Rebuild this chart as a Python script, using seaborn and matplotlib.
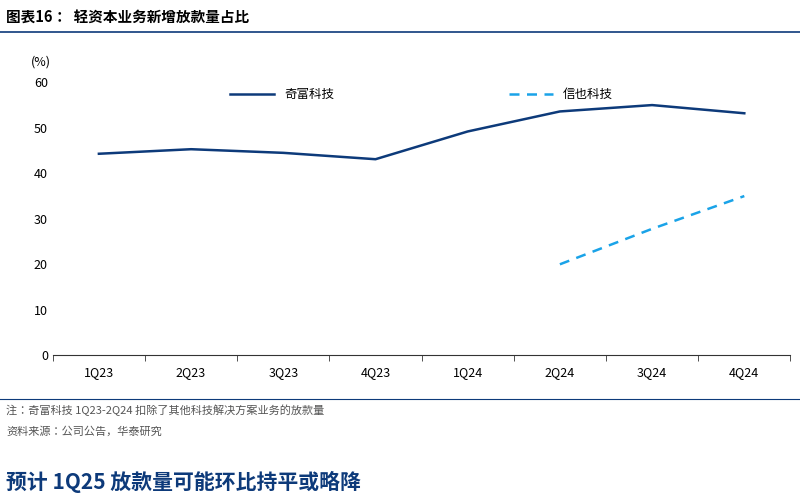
import matplotlib
matplotlib.use("Agg")
import matplotlib.pyplot as plt
from matplotlib import font_manager
import seaborn as sns
import pandas as pd

# pick an installed CJK font by file, since names can differ
cjk = [f for f in font_manager.findSystemFonts() if "CJK" in f or "cjk" in f.lower()]
fam = "DejaVu Sans"
if cjk:
    font_manager.fontManager.addfont(cjk[0])
    fam = font_manager.FontProperties(fname=cjk[0]).get_name()
plt.rcParams["font.family"] = [fam, "DejaVu Sans"]

quarters = ["1Q23", "2Q23", "3Q23", "4Q23", "1Q24", "2Q24", "3Q24", "4Q24"]
qifu = [44.3, 45.3, 44.5, 43.1, 49.2, 53.6, 55.0, 53.2]
xinye_quarters = ["2Q24", "3Q24", "4Q24"]
xinye = [20.0, 27.8, 35.0]

df_q = pd.DataFrame({"q": quarters, "v": qifu})
df_x = pd.DataFrame({"q": xinye_quarters, "v": xinye})
pos = {q: i for i, q in enumerate(quarters)}
df_q["x"] = df_q["q"].map(pos)
df_x["x"] = df_x["q"].map(pos)

fig = plt.figure(figsize=(8, 4.99), dpi=100)
ax = fig.add_axes([0.066, 0.288, 0.922, 0.547])

sns.lineplot(data=df_q, x="x", y="v", ax=ax, color="#0d3a7a", linewidth=1.8, label="奇富科技")
sns.lineplot(data=df_x, x="x", y="v", ax=ax, color="#1aa3e8", linewidth=1.8,
             linestyle=(0, (4, 3)), label="信也科技")

ax.set_xlim(-0.5, 7.5)
ax.set_ylim(0, 60)
ax.set_yticks(range(0, 61, 10))
ax.set_xticks(range(len(quarters)))
ax.set_xticklabels(quarters)
ax.set_xticks([i - 0.5 for i in range(len(quarters) + 1)], minor=True)
ax.set_xlabel("")
ax.set_ylabel("")
ax.tick_params(labelsize=9, length=0)
ax.tick_params(axis="x", which="major", length=0, pad=8)
ax.tick_params(axis="x", which="minor", length=4, direction="out", color="#333333")
for s in ["top", "right", "left"]:
    ax.spines[s].set_visible(False)
ax.spines["bottom"].set_color("#333333")
ax.text(-0.03, 1.06, "(%)", transform=ax.transAxes, fontsize=9, ha="left")
ax.legend(loc="upper center", bbox_to_anchor=(0.5, 1.02), ncol=2, frameon=False,
          fontsize=9, columnspacing=14, handlelength=3.5)

fig.text(0.008, 0.965, "图表16：  轻资本业务新增放款量占比", fontsize=10.5, fontweight="bold", va="center")
fig.add_artist(plt.Line2D([0, 1], [0.935, 0.935], color="#0d3a7a", linewidth=1.2))
fig.text(0.008, 0.177, "注：奇富科技 1Q23-2Q24 扣除了其他科技解决方案业务的放款量", fontsize=8, color="#555555", va="center")
fig.text(0.008, 0.135, "资料来源：公司公告，华泰研究", fontsize=8, color="#555555", va="center")
fig.add_artist(plt.Line2D([0, 1], [0.2, 0.2], color="#0d3a7a", linewidth=0.8))
fig.text(0.008, 0.035, "预计 1Q25 放款量可能环比持平或略降", fontsize=15, fontweight="bold",
         color="#0d3a7a", va="center")

fig.savefig("out.png", dpi=100)
